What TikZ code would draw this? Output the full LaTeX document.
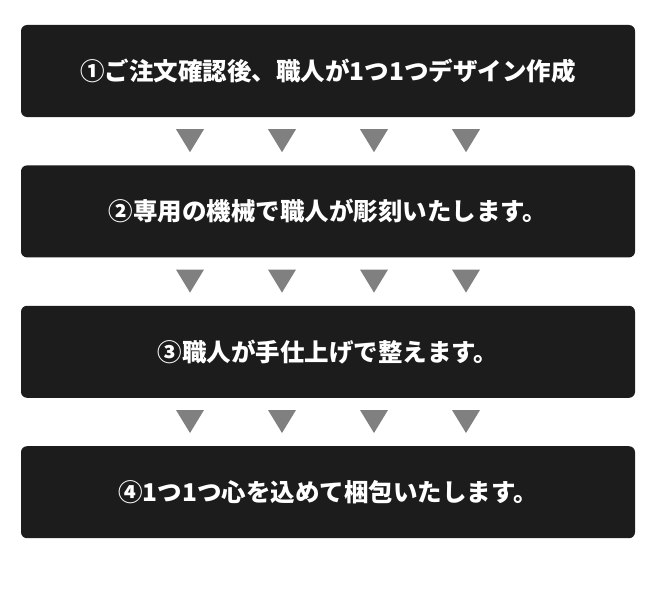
\documentclass[tikz,border=0pt]{standalone}
\usepackage{fontspec}
\setmainfont{Noto Sans CJK JP}
\usepackage{tikz}
\usetikzlibrary{positioning}
\definecolor{boxgray}{HTML}{1C1C1C}
\definecolor{markgray}{HTML}{808080}

\begin{document}
\begin{tikzpicture}[x=1pt,y=-1pt,
    node distance=48pt,
    stepbox/.style={fill=boxgray, text=white, rounded corners=6pt,
      minimum width=614pt, minimum height=92pt,
      font=\bfseries\fontsize{24.5}{24.5}\selectfont},
    downmark/.style={fill=markgray}]
  \useasboundingbox (0,0) rectangle (659,594);
  \node[stepbox] (step1) at (328,71) {①ご注文確認後、職人が1つ1つデザイン作成};
  \node[stepbox, below=of step1] (step2) {②専用の機械で職人が彫刻いたします。};
  \node[stepbox, below=of step2] (step3) {③職人が手仕上げで整えます。};
  \node[stepbox, below=of step3] (step4) {④1つ1つ心を込めて梱包いたします。};
  % marks between the steps
  \foreach \a in {step1,step2,step3}
    \foreach \dx in {-138,-46,46,138}
      \fill[downmark, shift={(\a.south)}] (\dx-14,12) -- (\dx+14,12) -- (\dx,35) -- cycle;
\end{tikzpicture}
\end{document}
